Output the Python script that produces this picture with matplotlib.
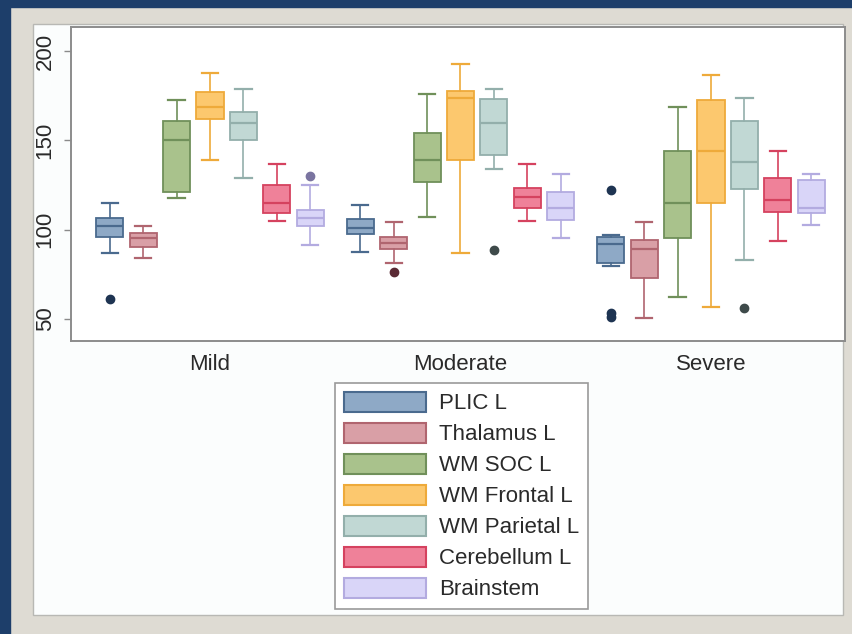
import matplotlib
matplotlib.use('Agg')
import matplotlib.pyplot as plt
from matplotlib.patches import Rectangle, Patch

plt.rcParams['font.family'] = ['Liberation Sans', 'DejaVu Sans']

groups = ['Mild', 'Moderate', 'Severe']
regions = ['PLIC L', 'Thalamus L', 'WM SOC L', 'WM Frontal L',
           'WM Parietal L', 'Cerebellum L', 'Brainstem']

# five-number summaries, one list per region: (Mild, Moderate, Severe)
whis_lo = {
    'PLIC L':        [87.0, 87.6, 79.5],
    'Thalamus L':    [84.0, 81.0, 50.6],
    'WM SOC L':      [117.5, 107.0, 62.4],
    'WM Frontal L':  [138.8, 87.0, 56.8],
    'WM Parietal L': [129.0, 134.0, 83.0],
    'Cerebellum L':  [104.5, 104.5, 93.6],
    'Brainstem':     [91.6, 95.0, 102.8],
}
q1 = {
    'PLIC L':        [96.0, 97.7, 81.5],
    'Thalamus L':    [90.0, 88.8, 73.0],
    'WM SOC L':      [121.0, 126.5, 95.0],
    'WM Frontal L':  [161.8, 138.8, 115.0],
    'WM Parietal L': [150.0, 142.0, 122.5],
    'Cerebellum L':  [109.0, 112.0, 110.0],
    'Brainstem':     [102.0, 105.6, 109.0],
}
med = {
    'PLIC L':        [102.0, 101.0, 92.0],
    'Thalamus L':    [95.5, 92.7, 89.0],
    'WM SOC L':      [150.0, 139.0, 114.6],
    'WM Frontal L':  [168.5, 173.6, 143.8],
    'WM Parietal L': [159.5, 159.6, 137.6],
    'Cerebellum L':  [115.0, 118.0, 116.3],
    'Brainstem':     [106.7, 111.8, 111.8],
}
q3 = {
    'PLIC L':        [106.7, 106.0, 96.0],
    'Thalamus L':    [98.3, 96.0, 94.0],
    'WM SOC L':      [161.0, 154.0, 144.0],
    'WM Frontal L':  [177.0, 177.5, 172.5],
    'WM Parietal L': [165.7, 173.0, 161.0],
    'Cerebellum L':  [125.0, 123.0, 128.9],
    'Brainstem':     [111.0, 121.0, 128.0],
}
whis_hi = {
    'PLIC L':        [115.0, 114.0, 97.0],
    'Thalamus L':    [102.0, 104.0, 104.0],
    'WM SOC L':      [172.5, 176.0, 168.6],
    'WM Frontal L':  [187.6, 193.0, 186.5],
    'WM Parietal L': [178.7, 178.7, 173.6],
    'Cerebellum L':  [137.0, 136.5, 144.0],
    'Brainstem':     [125.0, 131.0, 131.0],
}
outliers = {
    'PLIC L':        [[61.0], [], [122.0, 53.0, 51.0]],
    'Thalamus L':    [[], [76.0], []],
    'WM SOC L':      [[], [], []],
    'WM Frontal L':  [[], [], []],
    'WM Parietal L': [[], [88.7], [56.0]],
    'Cerebellum L':  [[], [], []],
    'Brainstem':     [[129.8], [], []],
}

fills = ['#8ea9c6', '#d99fa6', '#a9c28c', '#fcc86e', '#c1d8d4', '#ef8199', '#d9d5f8']
edges = ['#4a6a8e', '#b0656f', '#70905a', '#eeaa3a', '#93afab', '#d5425f', '#b3abe0']
dots = ['#1e3452', '#5a2a34', '#3c4d2e', '#7a5a20', '#3e4a4a', '#6a2434', '#7a74a0']

fig = plt.figure(figsize=(8.52, 6.34), dpi=100)
fig.patch.set_facecolor('#dedbd3')

# window chrome: dark frame on top/left, white panel
fig.patches.append(Rectangle((0, 0.989), 1, 0.011, transform=fig.transFigure,
                             color='#1d3e6a', zorder=-5))
fig.patches.append(Rectangle((0, 0), 0.012, 1, transform=fig.transFigure,
                             color='#1d3e6a', zorder=-5))
fig.patches.append(Rectangle((0.0387, 0.030), 0.951, 0.932, transform=fig.transFigure,
                             facecolor='#fbfdfd', edgecolor='#b8b8b4', lw=1, zorder=-5))

ax = fig.add_axes([0.0833, 0.4621, 0.9085, 0.4953])
ax.set_zorder(2)
ax.set_facecolor('white')

step = 0.1333
width = 0.108
for i, r in enumerate(regions):
    stats = []
    for g in range(len(groups)):
        stats.append(dict(whislo=whis_lo[r][g], q1=q1[r][g], med=med[r][g],
                          q3=q3[r][g], whishi=whis_hi[r][g], fliers=outliers[r][g]))
    pos = [g + (i - 3) * step for g in range(len(groups))]
    ax.bxp(stats, positions=pos, widths=width, capwidths=width * 0.6,
           patch_artist=True, manage_ticks=False,
           boxprops=dict(facecolor=fills[i], edgecolor=edges[i], lw=1.3),
           medianprops=dict(color=edges[i], lw=1.6),
           whiskerprops=dict(color=edges[i], lw=1.2),
           capprops=dict(color=edges[i], lw=1.6),
           flierprops=dict(marker='o', markersize=6, markerfacecolor=dots[i],
                           markeredgecolor=dots[i]))

ax.set_xlim(-0.555, 2.535)
ax.set_ylim(37.5, 213.5)
ax.set_yticks([50, 100, 150, 200])
ax.set_xticks(range(len(groups)))
ax.set_xticklabels(groups)
ax.tick_params(axis='x', length=0, pad=9, labelsize=16, labelcolor='#2a2a2a')
ax.tick_params(axis='y', length=5, width=1, color='#8a8a8a', pad=6,
               labelsize=16, labelcolor='#2a2a2a', labelrotation=90)
for lbl in ax.get_yticklabels():
    lbl.set_va('center')
for s in ax.spines.values():
    s.set_color('#8c8c8c')
    s.set_linewidth(1.4)

handles = [Patch(facecolor=fills[i], edgecolor=edges[i], lw=1.5) for i in range(len(regions))]
leg = fig.legend(handles, regions, loc='center', bbox_to_anchor=(0.5415, 0.2175),
                 fontsize=16, handlelength=3.7, handleheight=1.0, labelspacing=0.38,
                 handletextpad=0.6, borderpad=0.4, fancybox=False, framealpha=1,
                 edgecolor='#9a9a9a')
leg.get_frame().set_linewidth(1.2)
for t in leg.get_texts():
    t.set_color('#2a2a2a')

fig.savefig('out.png', dpi=100, facecolor=fig.get_facecolor())
